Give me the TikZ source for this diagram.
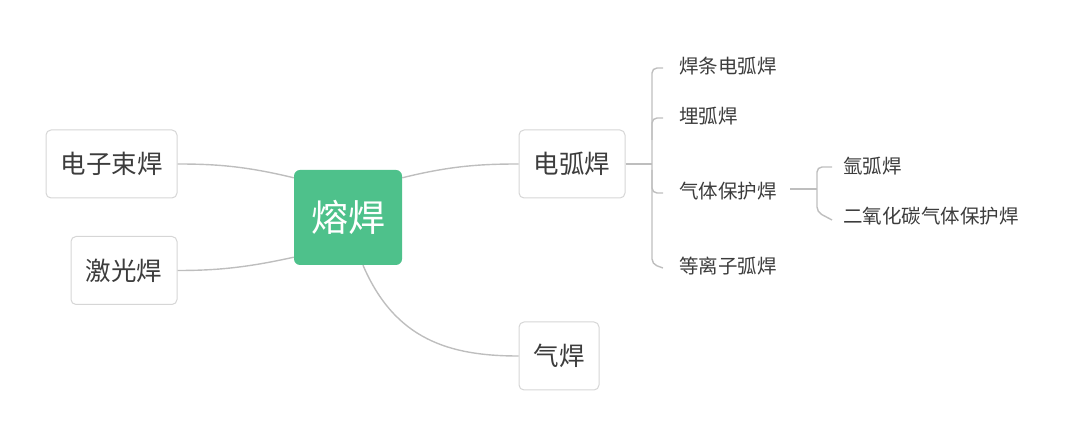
\documentclass[tikz,border=0pt]{standalone}
\usepackage{fontspec}
\setmainfont{Noto Sans CJK SC}
\definecolor{rootgreen}{RGB}{78,193,139}
\definecolor{boxline}{RGB}{214,214,214}
\definecolor{conn}{RGB}{190,190,190}
\definecolor{txt}{RGB}{60,60,60}
\tikzset{
  topic/.style={draw=boxline, line width=1pt, rounded corners=5pt, fill=white, text=txt, font=\fontsize{25.5}{30}\selectfont, inner sep=0pt, minimum height=68pt},
  leaf/.style={anchor=west, text=txt, font=\fontsize{19.5}{23}\selectfont, inner sep=0pt},
  link/.style={draw=conn, line width=1.4pt},
  brace/.style={draw=conn, line width=1.4pt, rounded corners=5pt}
}
\begin{document}
\begin{tikzpicture}[x=1pt,y=-1pt]
\useasboundingbox (0,0) rectangle (1080,435);
\node[fill=rootgreen, rounded corners=6pt, minimum width=108pt, minimum height=95pt, inner sep=0pt, text=white, font=\fontsize{37}{42}\selectfont] (root) at (348,217.5) {熔焊};
\node[topic, minimum width=131pt] (dz) at (111.5,164) {电子束焊};
\node[topic, minimum width=106pt] (jg) at (124,270.5) {激光焊};
\node[topic, minimum width=106pt] (dh) at (572,164) {电弧焊};
\node[topic, minimum width=80pt] (qh) at (559,356) {气焊};

\draw[link] ([yshift=-8pt]root.north east) .. controls (450,166) and (480,164) .. (dh.west);
\draw[link] ([yshift=-8pt]root.north west) .. controls (245,166) and (215,164) .. (dz.east);
\draw[link] ([yshift=8pt]root.south west) .. controls (245,268) and (215,270.5) .. (jg.east);
\draw[link] ([xshift=15pt]root.south) .. controls (395,340) and (450,356) .. (qh.west);

% sub items of 电弧焊
\node[leaf] (s1) at (679,66) {焊条电弧焊};
\node[leaf] (s2) at (679,116) {埋弧焊};
\node[leaf] (s3) at (679,191) {气体保护焊};
\node[leaf] (s4) at (679,266) {等离子弧焊};
\coordinate (b1) at (652,164);
\draw[link] (dh.east) -- (b1);
\draw[brace] ([xshift=-16pt,yshift=-2pt]s1.west) -| (652,264) -- ([xshift=-16pt,yshift=-2pt]s4.west);
\draw[brace] (652,140) |- ([xshift=-16pt,yshift=-2pt]s2.west);
\draw[brace] (652,170) |- ([xshift=-16pt,yshift=-2pt]s3.west);

% sub items of 气体保护焊
\node[leaf] (t1) at (843,166) {氩弧焊};
\node[leaf] (t2) at (843,216) {二氧化碳气体保护焊};
\coordinate (b2) at (817,189);
\draw[link] (790,189) -- (b2);
\draw[brace] ([xshift=-11pt,yshift=-1pt]t1.west) -| (817,212) -- ([xshift=-11pt,yshift=-4pt]t2.west);
\end{tikzpicture}
\end{document}
